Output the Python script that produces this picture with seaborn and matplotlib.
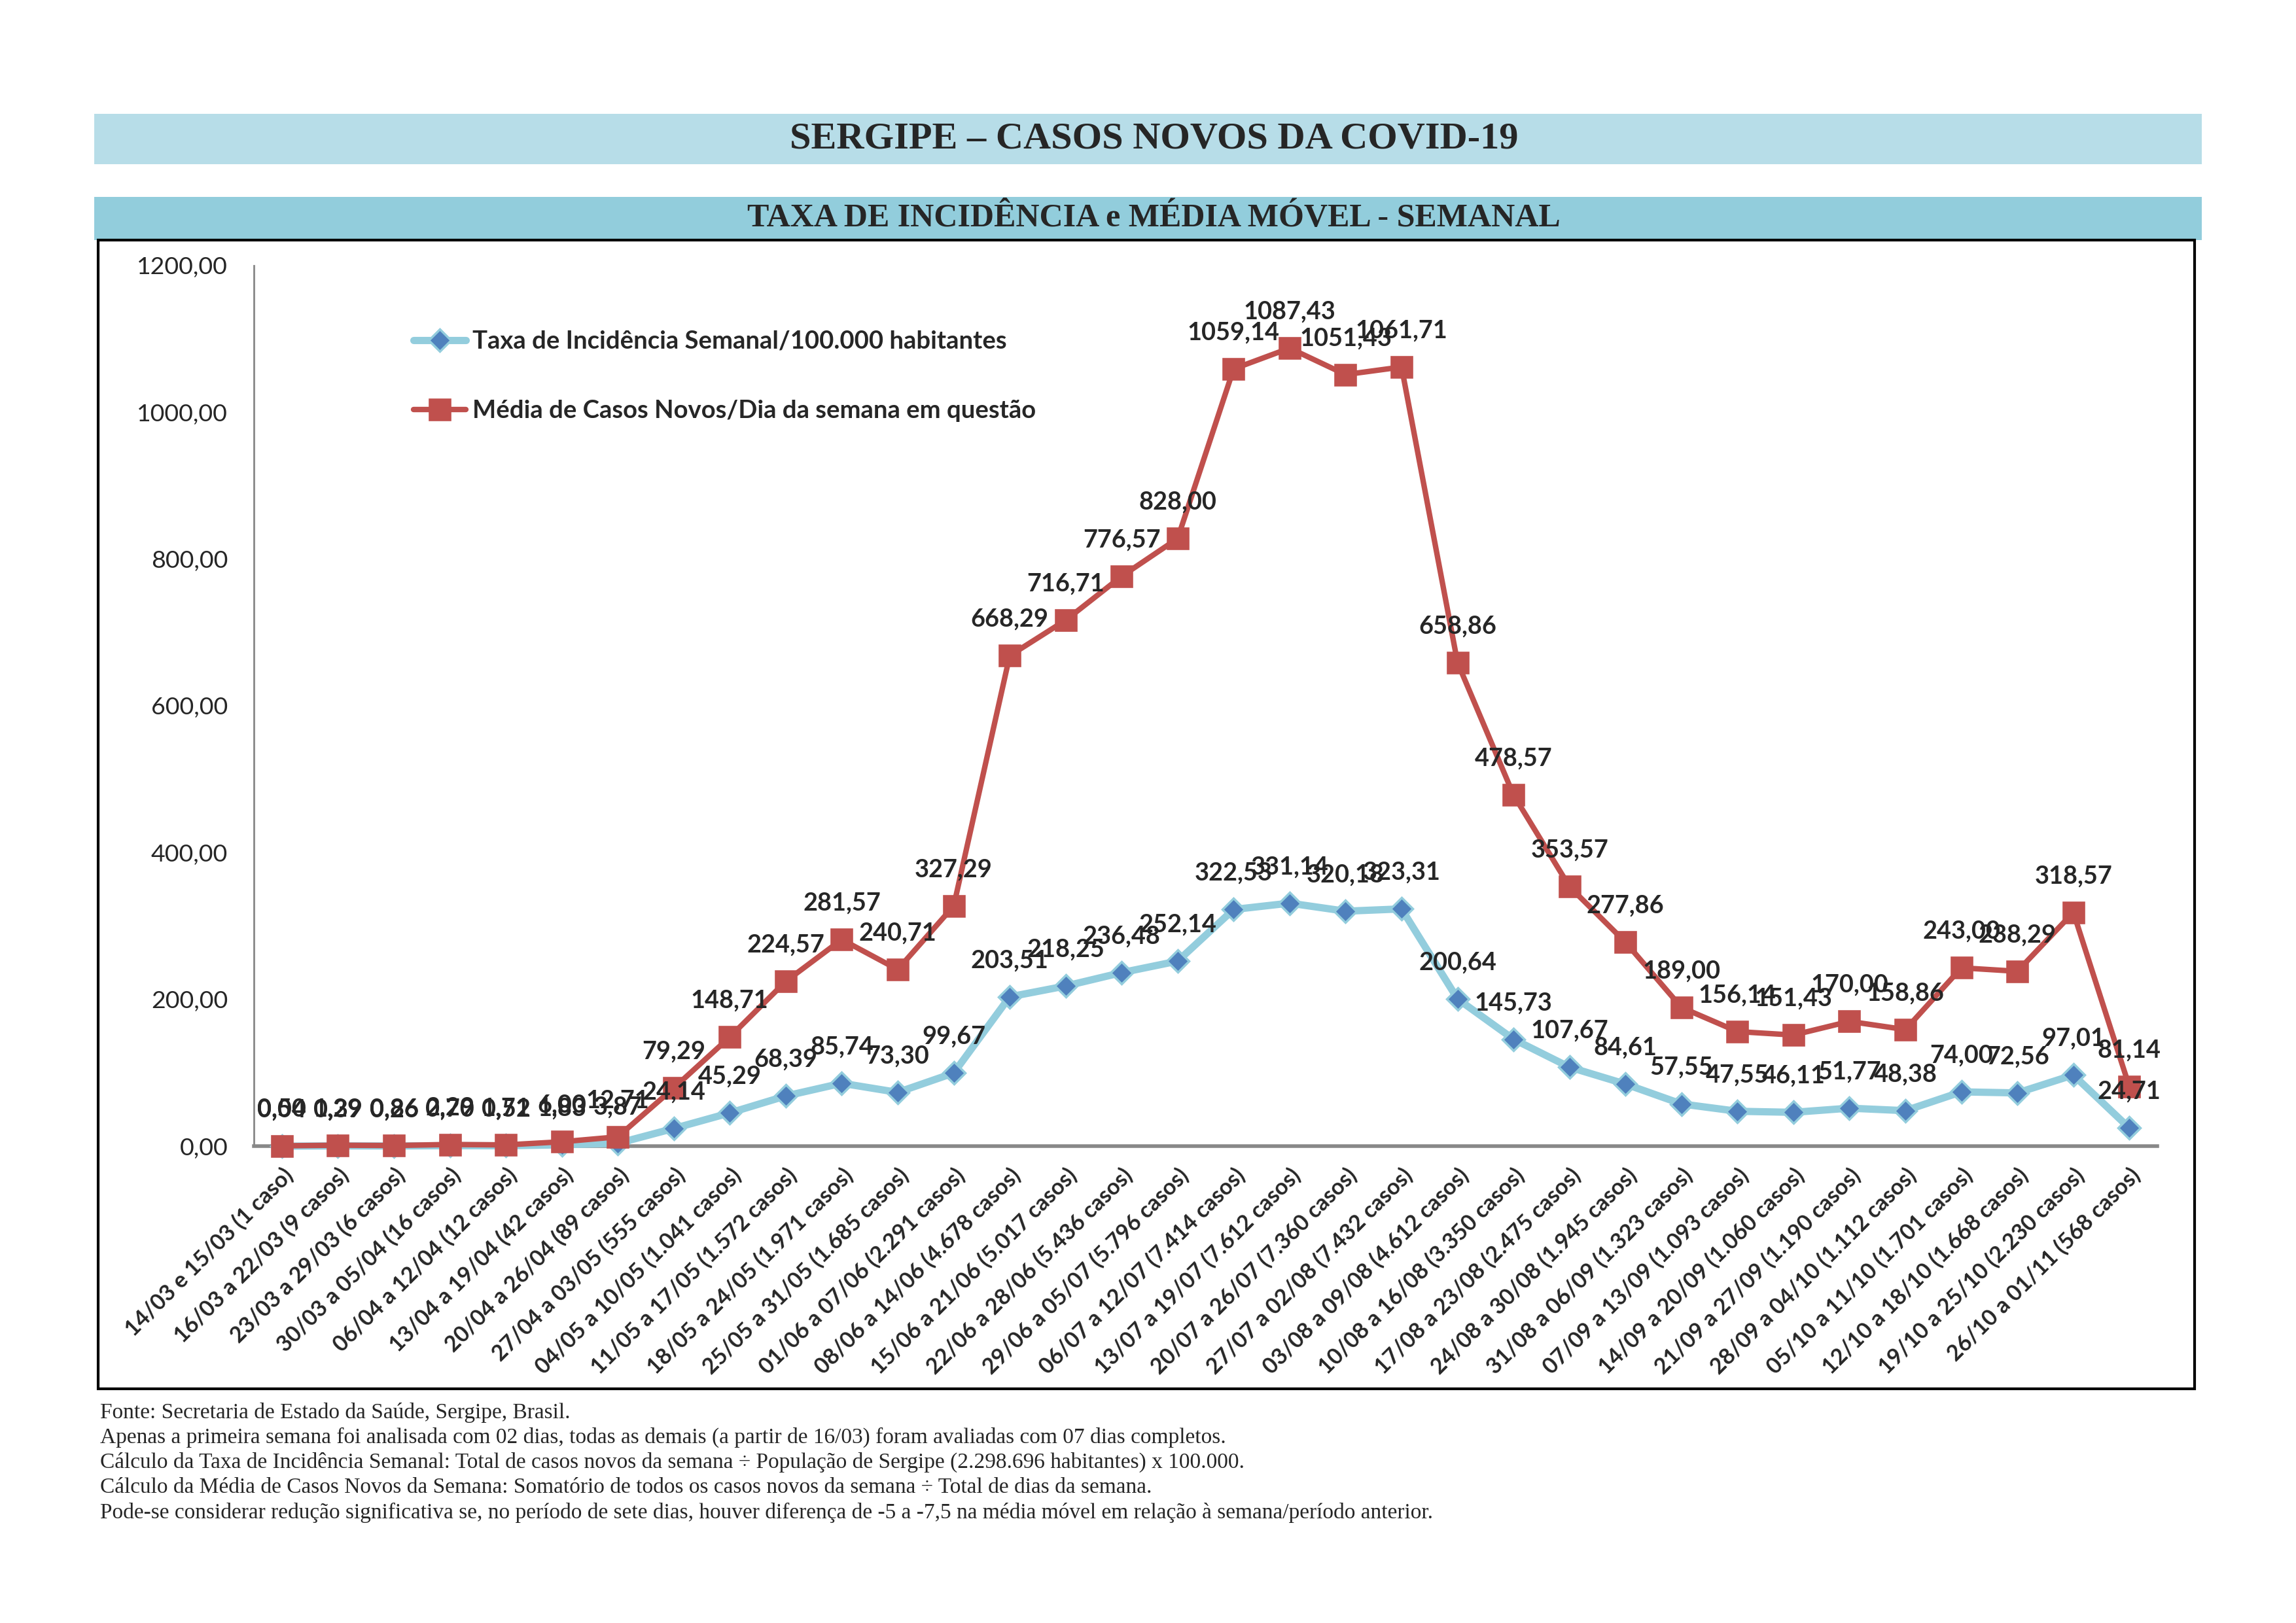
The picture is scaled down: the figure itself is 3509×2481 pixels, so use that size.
import numpy as np
import pandas as pd
import matplotlib
matplotlib.use("Agg")
import matplotlib.pyplot as plt
import seaborn as sns
from matplotlib.patches import Rectangle

# ====================== DADOS ======================
semanas = [
    "14/03 e 15/03 (1 caso)", "16/03 a 22/03 (9 casos)", "23/03 a 29/03 (6 casos)",
    "30/03 a 05/04 (16 casos)", "06/04 a 12/04 (12 casos)", "13/04 a 19/04 (42 casos)",
    "20/04 a 26/04 (89 casos)", "27/04 a 03/05 (555 casos)", "04/05 a 10/05 (1.041 casos)",
    "11/05 a 17/05 (1.572 casos)", "18/05 a 24/05 (1.971 casos)", "25/05 a 31/05 (1.685 casos)",
    "01/06 a 07/06 (2.291 casos)", "08/06 a 14/06 (4.678 casos)", "15/06 a 21/06 (5.017 casos)",
    "22/06 a 28/06 (5.436 casos)", "29/06 a 05/07 (5.796 casos)", "06/07 a 12/07 (7.414 casos)",
    "13/07 a 19/07 (7.612 casos)", "20/07 a 26/07 (7.360 casos)", "27/07 a 02/08 (7.432 casos)",
    "03/08 a 09/08 (4.612 casos)", "10/08 a 16/08 (3.350 casos)", "17/08 a 23/08 (2.475 casos)",
    "24/08 a 30/08 (1.945 casos)", "31/08 a 06/09 (1.323 casos)", "07/09 a 13/09 (1.093 casos)",
    "14/09 a 20/09 (1.060 casos)", "21/09 a 27/09 (1.190 casos)", "28/09 a 04/10 (1.112 casos)",
    "05/10 a 11/10 (1.701 casos)", "12/10 a 18/10 (1.668 casos)", "19/10 a 25/10 (2.230 casos)",
    "26/10 a 01/11 (568 casos)",
]

taxa = [0.04, 0.39, 0.26, 0.70, 0.52, 1.83, 3.87, 24.14, 45.29, 68.39, 85.74, 73.30,
        99.67, 203.51, 218.25, 236.48, 252.14, 322.53, 331.14, 320.18, 323.31, 200.64,
        145.73, 107.67, 84.61, 57.55, 47.55, 46.11, 51.77, 48.38, 74.00, 72.56, 97.01, 24.71]

media = [0.50, 1.29, 0.86, 2.29, 1.71, 6.00, 12.71, 79.29, 148.71, 224.57, 281.57, 240.71,
         327.29, 668.29, 716.71, 776.57, 828.00, 1059.14, 1087.43, 1051.43, 1061.71, 658.86,
         478.57, 353.57, 277.86, 189.00, 156.14, 151.43, 170.00, 158.86, 243.00, 238.29,
         318.57, 81.14]

lbl_taxa = "Taxa de Incidência Semanal/100.000 habitantes"
lbl_media = "Média de Casos Novos/Dia da semana em questão"

titulo = "SERGIPE – CASOS NOVOS DA COVID-19"
subtitulo = "TAXA DE INCIDÊNCIA e MÉDIA MÓVEL - SEMANAL"
notas = [
    "Fonte: Secretaria de Estado da Saúde, Sergipe, Brasil.",
    "Apenas a primeira semana foi analisada com 02 dias, todas as demais (a partir de 16/03) foram avaliadas com 07 dias completos.",
    "Cálculo da Taxa de Incidência Semanal: Total de casos novos da semana ÷ População de Sergipe (2.298.696 habitantes) x 100.000.",
    "Cálculo da Média de Casos Novos da Semana: Somatório de todos os casos novos da semana ÷ Total de dias da semana.",
    "Pode-se considerar redução significativa se, no período de sete dias, houver diferença de -5 a -7,5 na média móvel em relação à semana/período anterior.",
]

def br(v):
    return f"{v:.2f}".replace(".", ",")

# ====================== FIGURA ======================
sns.set_style("white")
plt.rcParams['font.family'] = ['Lato', 'DejaVu Sans']

fig = plt.figure(figsize=(14.036, 9.924), dpi=250)

# faixas de titulo
fig.patches.append(Rectangle((0.041, 0.8989), 0.918, 0.031, transform=fig.transFigure,
                             facecolor='#b7dde8', edgecolor='none', zorder=0))
fig.patches.append(Rectangle((0.041, 0.8522), 0.918, 0.0266, transform=fig.transFigure,
                             facecolor='#92cddc', edgecolor='none', zorder=0))
fig.text(0.5026, 0.9143, titulo, ha='center', va='center', fontsize=16.8, fontweight='bold',
         family=['Liberation Serif', 'DejaVu Serif'])
fig.text(0.5026, 0.8655, subtitulo, ha='center', va='center', fontsize=14.4, fontweight='bold',
         family=['Liberation Serif', 'DejaVu Serif'])

# moldura do grafico
fig.patches.append(Rectangle((0.0427, 0.1443), 0.9131, 0.7079, transform=fig.transFigure,
                             fill=False, edgecolor='black', lw=1.2, zorder=1))

ax = fig.add_axes([0.1106, 0.2938, 0.829, 0.5426])

df = pd.DataFrame({'x': np.arange(len(semanas)), 'taxa': taxa, 'media': media})

sns.lineplot(data=df, x='x', y='taxa', ax=ax, color='#93cddd', lw=3.2, marker='D',
             markersize=7, markerfacecolor='#4f81bd', markeredgecolor='#93cddd',
             markeredgewidth=1, label=lbl_taxa, clip_on=False, zorder=3)
sns.lineplot(data=df, x='x', y='media', ax=ax, color='#c0504d', lw=2.4, marker='s',
             markersize=9, markerfacecolor='#c0504d', markeredgecolor='#c0504d',
             label=lbl_media, clip_on=False, zorder=4)

for xi, v in zip(df['x'], df['taxa']):
    ax.annotate(br(v), (xi, v), xytext=(0, 16), textcoords='offset points',
                ha='center', va='center', fontsize=10.9, fontweight='bold', zorder=6)
for xi, v in zip(df['x'], df['media']):
    ax.annotate(br(v), (xi, v), xytext=(0, 16), textcoords='offset points',
                ha='center', va='center', fontsize=10.9, fontweight='bold', zorder=6)

ax.set_xlim(-0.5, len(semanas) - 0.5)
ax.set_ylim(0, 1200)
ax.set_yticks(np.arange(0, 1201, 200))
ax.set_yticklabels([br(t) for t in np.arange(0, 1201, 200)], fontsize=10.8)
ax.set_xticks(df['x'])
ax.set_xticklabels(semanas, rotation=45, ha='right', rotation_mode='anchor',
                   fontsize=9.8, fontweight='bold')
ax.tick_params(axis='x', length=0, pad=8)
ax.tick_params(axis='y', length=0, pad=11.5)
ax.set_xlabel("")
ax.set_ylabel("")

for s in ['top', 'right']:
    ax.spines[s].set_visible(False)
ax.spines['left'].set_color('#888888')
ax.spines['left'].set_linewidth(0.8)
ax.spines['bottom'].set_color('#888888')
ax.spines['bottom'].set_linewidth(1.6)

leg = ax.legend(loc='upper left', bbox_to_anchor=(0.072, 0.952), frameon=False,
                handlelength=2.1, handletextpad=0.25, labelspacing=1.9,
                prop={'size': 11, 'weight': 'bold'})

# notas de rodape
y0 = 0.1296
for i, n in enumerate(notas):
    fig.text(0.0436, y0 - i * 0.0154, n, ha='left', va='center', fontsize=9.6,
             family=['Liberation Serif', 'DejaVu Serif'])

fig.savefig('out.png', dpi=250)
